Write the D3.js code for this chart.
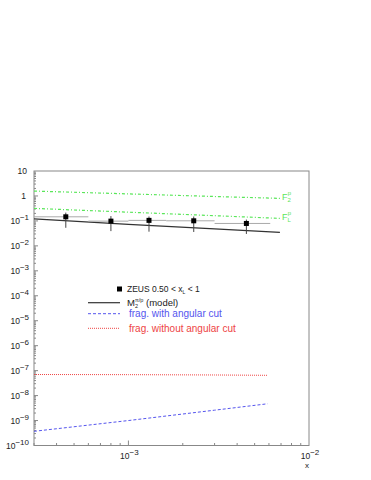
<!DOCTYPE html>
<html>
<head>
<meta charset="utf-8">
<script src="https://cdn.jsdelivr.net/npm/d3@7"></script>
<style>
  body { margin: 0; background: #fff; }
  text { font-family: "Liberation Sans", Arial, sans-serif; }
</style>
</head>
<body>
<svg id="chart" width="371" height="480"></svg>
<script>
// ZEUS data points (0.50 < xL < 1)
var zeusX = [4.5e-4, 8.0e-4, 1.3e-3, 2.3e-3, 4.5e-3];
var zeusY = [0.146, 0.098, 0.105, 0.101, 0.079];
var zeusYLo = [0.053, 0.039, 0.037, 0.036, 0.030];
var zeusYHi = [0.215, 0.156, 0.15, 0.15, 0.113];
var zeusXLo = [3.0e-4, 6.0e-4, 1.0e-3, 1.62e-3, 3.0e-3];
var zeusXHi = [6.0e-4, 1.0e-3, 1.62e-3, 3.0e-3, 6.1e-3];

// curves
var curveX = [3e-4, 1e-3, 3e-3, 6.9e-3];
var modelY = [0.12, 0.073, 0.048, 0.035];
var f2Y = [1.57, 1.21, 0.95, 0.80];
var flY = [0.318, 0.224, 0.162, 0.126];

var fragX = [3e-4, 1e-3, 3e-3, 5.9e-3];
var fragCutY = [3.7e-10, 1.0e-9, 2.6e-9, 4.7e-9];
var fragNoCutY = [7.0e-8, 6.9e-8, 6.7e-8, 6.5e-8];

// axis ticks
var xDecades = [-3, -2];
var yDecades = [1, 0, -1, -2, -3, -4, -5, -6, -7, -8, -9, -10];

var svg = d3.select('#chart');
var plotL = 34, plotR = 309, plotT = 171, plotB = 445.5;

var x = d3.scaleLog().domain([3e-4, 1e-2]).range([plotL, plotR]);
var y = d3.scaleLog().domain([1e-10, 10]).range([plotB, plotT]);

var green = '#5ae65a';

// frame
svg.append('rect')
    .attr('x', plotL).attr('y', plotT)
    .attr('width', plotR - plotL).attr('height', plotB - plotT)
    .attr('fill', 'none').attr('stroke', '#888').attr('stroke-width', 1);

// x ticks (inside, upward)
var xTicks = [];
for (var e = -4; e <= -3; e++) {
    for (var m = 1; m <= 9; m++) {
        var v = m * Math.pow(10, e);
        if (v > 3e-4 && v < 1e-2) xTicks.push({ v: v, major: m === 1 });
    }
}
svg.selectAll('.xtick').data(xTicks).enter().append('line')
    .attr('x1', function(d) { return x(d.v); })
    .attr('x2', function(d) { return x(d.v); })
    .attr('y1', plotB)
    .attr('y2', function(d) { return plotB - (d.major ? 5 : 2.5); })
    .attr('stroke', '#888');

// y ticks (inside, to the right)
var yTicks = [];
for (var e2 = -10; e2 <= 0; e2++) {
    for (var m2 = 1; m2 <= 9; m2++) {
        yTicks.push({ v: m2 * Math.pow(10, e2), major: m2 === 1 });
    }
}
svg.selectAll('.ytick').data(yTicks).enter().append('line')
    .attr('x1', plotL)
    .attr('x2', function(d) { return plotL + (d.major ? 4 : 2); })
    .attr('y1', function(d) { return y(d.v); })
    .attr('y2', function(d) { return y(d.v); })
    .attr('stroke', '#888');

// y tick labels
yDecades.forEach(function(p) {
    var t = svg.append('text')
        .attr('x', 29)
        .attr('y', y(Math.pow(10, p)) + 3)
        .attr('text-anchor', 'end')
        .attr('font-size', 8.5)
        .attr('fill', '#222');
    if (p === 1) {
        t.attr('x', 27).text('10');
    } else if (p === 0) {
        t.attr('x', 26).text('1');
    } else {
        t.append('tspan').text('10');
        t.append('tspan').attr('dy', -4).attr('font-size', 8).text('\u2212' + (-p));
    }
});

// x tick labels
xDecades.forEach(function(p) {
    var t = svg.append('text')
        .attr('x', x(Math.pow(10, p)) + 1)
        .attr('y', plotB + 13)
        .attr('text-anchor', 'middle')
        .attr('font-size', 8.5)
        .attr('fill', '#222');
    t.append('tspan').text('10');
    t.append('tspan').attr('dy', -4).attr('font-size', 8).text('\u2212' + (-p));
});

svg.append('text')
    .attr('x', 307).attr('y', 468)
    .attr('text-anchor', 'middle')
    .attr('font-size', 8)
    .attr('fill', '#222')
    .text('x');

// lines
var line = d3.line()
    .x(function(d) { return x(d[0]); })
    .y(function(d) { return y(d[1]); });

function series(xs, ys) {
    return xs.map(function(v, i) { return [v, ys[i]]; });
}

svg.append('path').attr('d', line(series(curveX, f2Y)))
    .attr('fill', 'none').attr('stroke', green).attr('stroke-width', 1.2)
    .attr('stroke-dasharray', '3,2,1,2');
svg.append('path').attr('d', line(series(curveX, flY)))
    .attr('fill', 'none').attr('stroke', green).attr('stroke-width', 1.2)
    .attr('stroke-dasharray', '3,2,1,2');
svg.append('path').attr('d', line(series(curveX, modelY)))
    .attr('fill', 'none').attr('stroke', '#333').attr('stroke-width', 1.2);
svg.append('path').attr('d', line(series(fragX, fragCutY)))
    .attr('fill', 'none').attr('stroke', '#5555ee').attr('stroke-width', 1)
    .attr('stroke-dasharray', '3,2');
svg.append('path').attr('d', line(series(fragX, fragNoCutY)))
    .attr('fill', 'none').attr('stroke', '#ee4444').attr('stroke-width', 1)
    .attr('stroke-dasharray', '1,1');

// green labels
function fLabel(yv, sub) {
    var t = svg.append('text')
        .attr('x', x(6.9e-3) + 2)
        .attr('y', y(yv) + 2)
        .attr('font-size', 9)
        .attr('fill', green);
    t.append('tspan').text('F');
    t.append('tspan').attr('dy', 2).attr('font-size', 6).text(sub);
    t.append('tspan').attr('dy', -7).attr('dx', -3).attr('font-size', 6).text('p');
}
fLabel(f2Y[f2Y.length - 1], '2');
fLabel(flY[flY.length - 1], 'L');

// ZEUS points
var pts = zeusX.map(function(v, i) {
    return { x: v, y: zeusY[i], ylo: zeusYLo[i], yhi: zeusYHi[i], xlo: zeusXLo[i], xhi: zeusXHi[i] };
});
var g = svg.selectAll('.pt').data(pts).enter().append('g');
g.append('line')
    .attr('x1', function(d) { return x(d.xlo); })
    .attr('x2', function(d) { return x(d.xhi); })
    .attr('y1', function(d) { return y(d.y); })
    .attr('y2', function(d) { return y(d.y); })
    .attr('stroke', '#aaa').attr('stroke-width', 1);
g.append('line')
    .attr('x1', function(d) { return x(d.x); })
    .attr('x2', function(d) { return x(d.x); })
    .attr('y1', function(d) { return y(d.yhi); })
    .attr('y2', function(d) { return y(d.ylo); })
    .attr('stroke', '#444').attr('stroke-width', 1);
g.append('rect')
    .attr('x', function(d) { return x(d.x) - 2.5; })
    .attr('y', function(d) { return y(d.y) - 2.5; })
    .attr('width', 5).attr('height', 5)
    .attr('fill', '#000');

// legend
var lg = svg.append('g');
lg.append('rect').attr('x', 117).attr('y', 286.5).attr('width', 5).attr('height', 5).attr('fill', '#000');
var zt = lg.append('text').attr('x', 127).attr('y', 292).attr('font-size', 8.5).attr('fill', '#222');
zt.append('tspan').text('ZEUS  0.50 < x');
zt.append('tspan').attr('dy', 2).attr('font-size', 5).text('L');
zt.append('tspan').attr('dy', -2).text(' < 1');

lg.append('line').attr('x1', 88).attr('x2', 120).attr('y1', 302.7).attr('y2', 302.7)
    .attr('stroke', '#333').attr('stroke-width', 1.2);
var mt = lg.append('text').attr('x', 127).attr('y', 306).attr('font-size', 9.5).attr('fill', '#222');
mt.append('tspan').text('M');
mt.append('tspan').attr('dy', 2).attr('font-size', 5.5).text('2');
mt.append('tspan').attr('dy', -6).attr('dx', -3).attr('font-size', 5.5).text('\u03c0/p');
mt.append('tspan').attr('dy', 4).text(' (model)');

lg.append('line').attr('x1', 88).attr('x2', 120).attr('y1', 313.7).attr('y2', 313.7)
    .attr('stroke', '#5555ee').attr('stroke-dasharray', '3,2');
lg.append('text').attr('x', 129).attr('y', 317).attr('font-size', 10).attr('fill', '#5555ee')
    .text('frag. with angular cut');

lg.append('line').attr('x1', 88).attr('x2', 120).attr('y1', 328.3).attr('y2', 328.3)
    .attr('stroke', '#ee4444').attr('stroke-dasharray', '1,1');
lg.append('text').attr('x', 129).attr('y', 332).attr('font-size', 10).attr('fill', '#ee4444')
    .text('frag. without angular cut');
</script>
</body>
</html>
